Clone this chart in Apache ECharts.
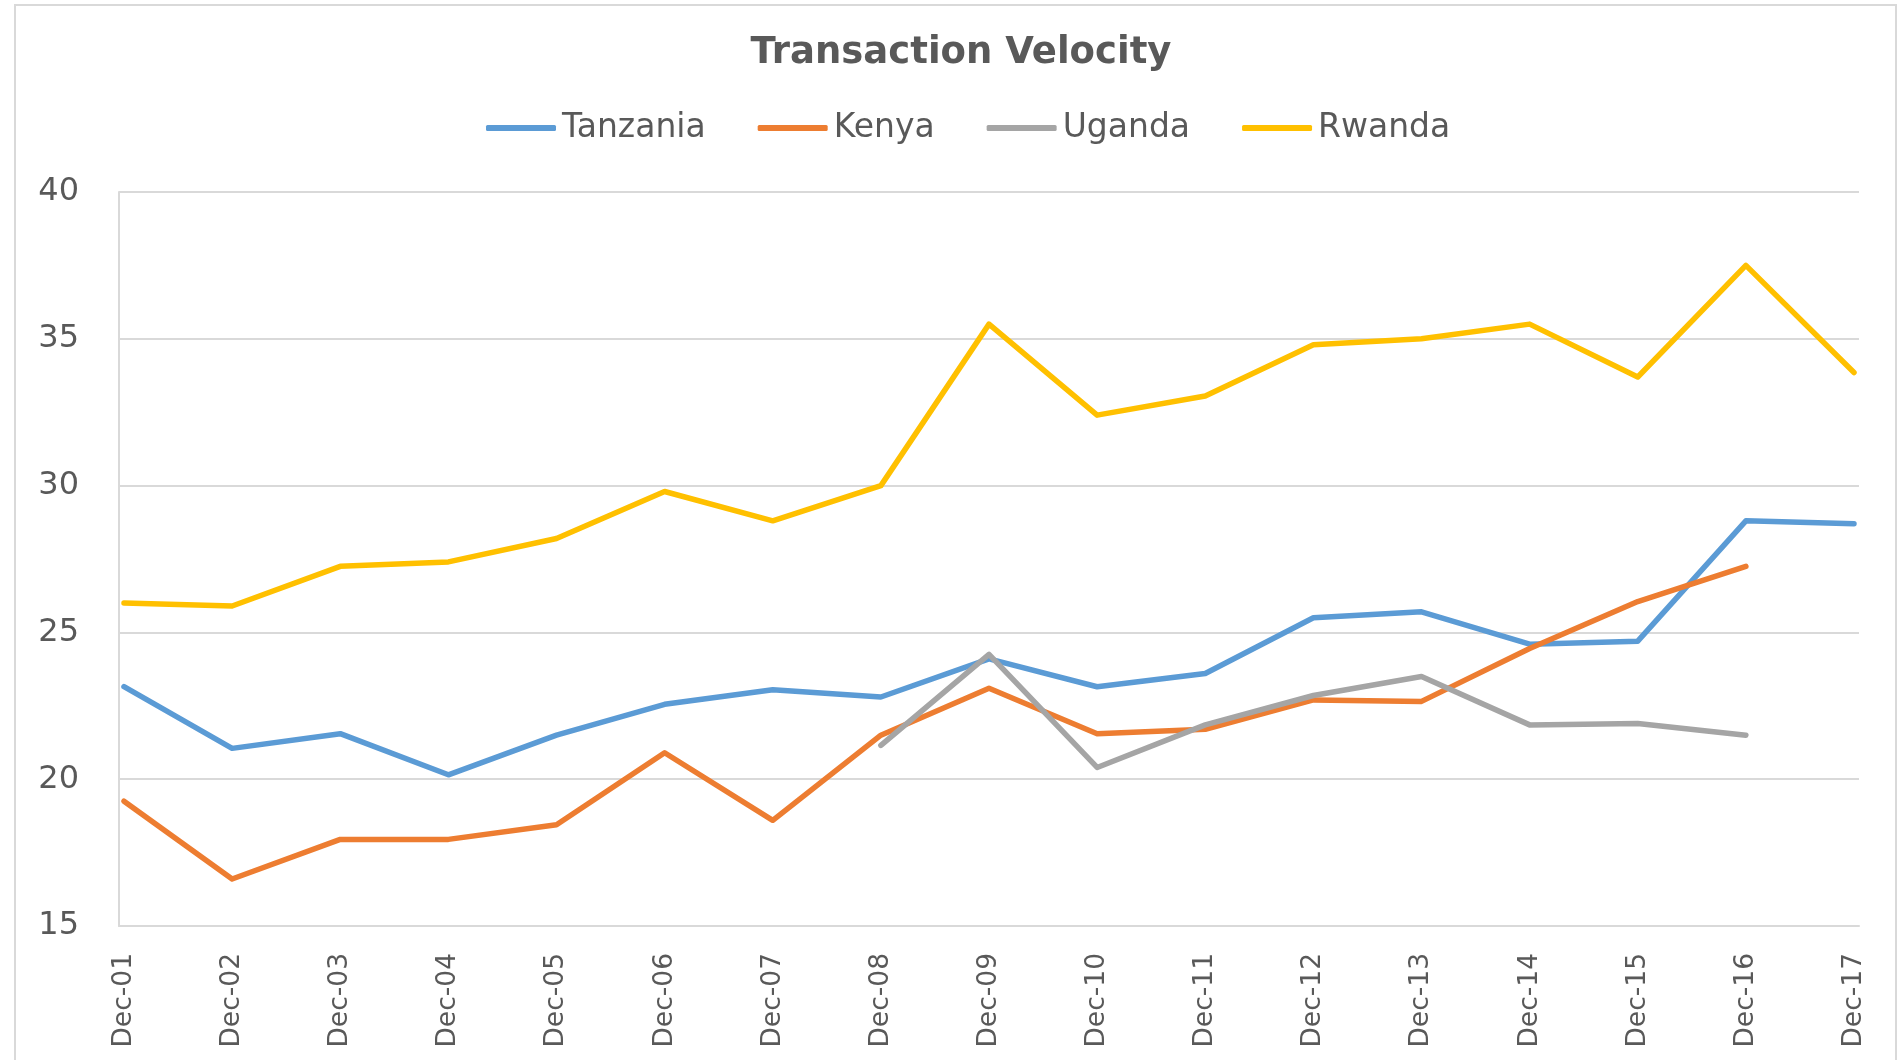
<!DOCTYPE html>
<html>
<head>
<meta charset="utf-8">
<script src="https://cdn.jsdelivr.net/npm/echarts@6/dist/echarts.min.js"></script>
<style>
html,body{margin:0;padding:0;background:#fff;}
#chart{width:1903px;height:1060px;}
</style>
</head>
<body>
<div id="chart"></div>
<script>
const categories = ['Dec-01','Dec-02','Dec-03','Dec-04','Dec-05','Dec-06','Dec-07','Dec-08','Dec-09','Dec-10','Dec-11','Dec-12','Dec-13','Dec-14','Dec-15','Dec-16','Dec-17'];
const tanzania = [23.15, 21.05, 21.55, 20.15, 21.5, 22.55, 23.05, 22.8, 24.1, 23.15, 23.6, 25.5, 25.7, 24.6, 24.7, 28.8, 28.7];
const kenya    = [19.25, 16.6, 17.95, 17.95, 18.45, 20.9, 18.6, 21.5, 23.1, 21.55, 21.7, 22.7, 22.65, 24.45, 26.05, 27.25, null];
const uganda   = [null, null, null, null, null, null, null, 21.15, 24.25, 20.4, 21.85, 22.85, 23.5, 21.85, 21.9, 21.5, null];
const rwanda   = [26.0, 25.9, 27.25, 27.4, 28.2, 29.8, 28.8, 30.0, 35.5, 32.4, 33.05, 34.8, 35.0, 35.5, 33.7, 37.5, 33.85];
const seriesNames = ['Tanzania','Kenya','Uganda','Rwanda'];
const seriesColors = ['#5B9BD5','#ED7D31','#A5A5A5','#FFC000'];
const seriesData = [tanzania, kenya, uganda, rwanda];
const yTicks = {min: 15, max: 40, interval: 5};

const chart = echarts.init(document.getElementById('chart'));
const txt = '#595959';
const gridCol = '#d9d9d9';
chart.setOption({
  animation: false,
  backgroundColor: '#fff',
  graphic: [{
    type: 'rect', silent: true, z: -1,
    shape: {x: 15, y: 5, width: 1881, height: 1100},
    style: {fill: 'none', stroke: gridCol, lineWidth: 2}
  }],
  title: {
    text: 'Transaction Velocity',
    left: 956, top: 27.5, textAlign: 'center',
    textStyle: {fontFamily: 'DejaVu Sans', fontWeight: 'bold', fontSize: 37, color: txt, lineHeight: 42}
  },
  legend: {
    data: seriesNames,
    left: 481, top: 106.5,
    icon: 'roundRect', itemWidth: 70, itemHeight: 6, itemGap: 52,
    textStyle: {fontFamily: 'DejaVu Sans', fontSize: 33, color: txt, padding: [0,0,0,1]}
  },
  grid: [
    {left: 119, right: 44, top: 192, bottom: 134, containLabel: false},
    {left: 124, right: 49, top: 192, bottom: 134, containLabel: false}
  ],
  xAxis: [{
    gridIndex: 0, type: 'category', data: categories, boundaryGap: false,
    axisLine: {show: true, lineStyle: {color: gridCol, width: 2}},
    axisTick: {show: false}, axisLabel: {show: false}, splitLine: {show: false}
  }, {
    gridIndex: 1, type: 'category', data: categories, boundaryGap: false,
    axisLine: {show: false}, axisTick: {show: false}, splitLine: {show: false},
    axisLabel: {rotate: 90, margin: 27, fontFamily: 'DejaVu Sans', fontSize: 26.5, color: txt, interval: 0}
  }],
  yAxis: [{
    gridIndex: 0, type: 'value', min: yTicks.min, max: yTicks.max, interval: yTicks.interval,
    axisLine: {show: true, lineStyle: {color: gridCol, width: 2}},
    axisTick: {show: false},
    splitLine: {lineStyle: {color: gridCol, width: 2}},
    axisLabel: {margin: 40, fontFamily: 'DejaVu Sans', fontSize: 32, color: txt}
  }, {
    gridIndex: 1, type: 'value', min: yTicks.min, max: yTicks.max, interval: yTicks.interval,
    axisLine: {show: false}, axisTick: {show: false}, axisLabel: {show: false}, splitLine: {show: false}
  }],
  series: seriesNames.map((n, i) => ({
    name: n, type: 'line', data: seriesData[i],
    xAxisIndex: 1, yAxisIndex: 1,
    showSymbol: false, symbol: 'none', connectNulls: false,
    color: seriesColors[i],
    lineStyle: {color: seriesColors[i], width: 5.5, cap: 'round', join: 'round'}
  }))
});
</script>
</body>
</html>
